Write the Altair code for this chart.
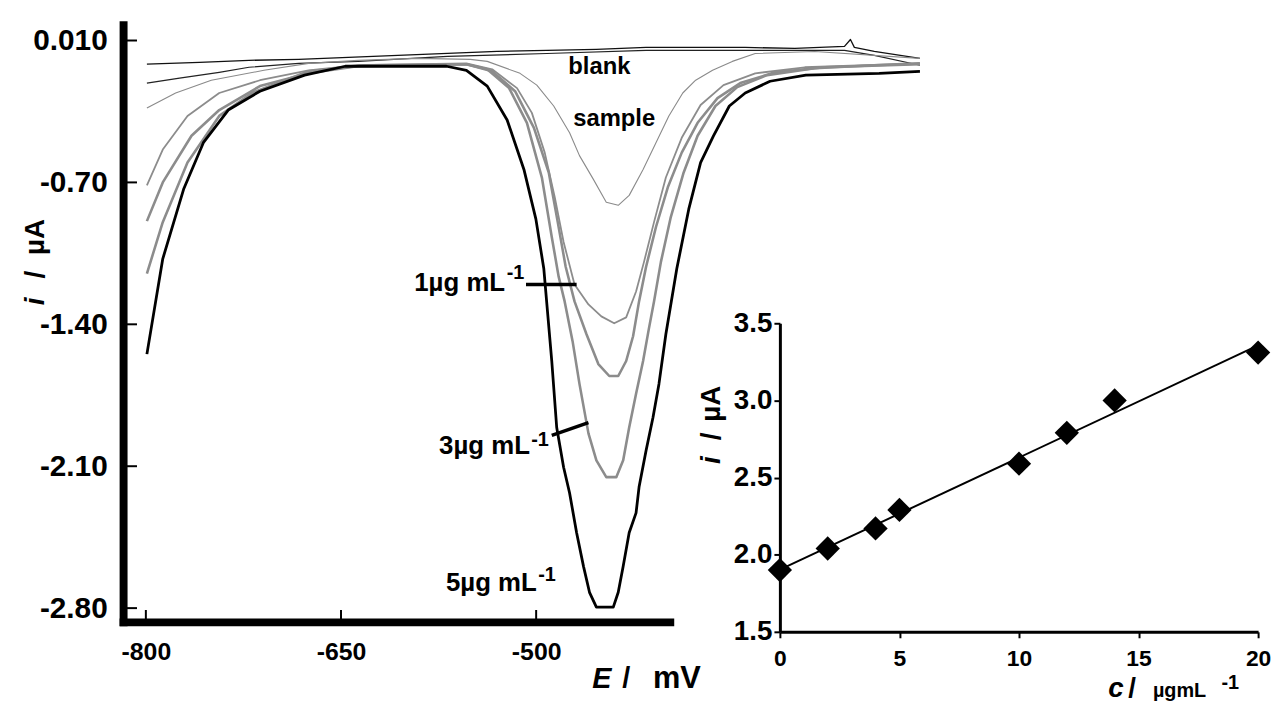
import altair as alt
import pandas as pd

FONT = "Liberation Sans"

# ---------------- main voltammograms: E / mV , i / uA ----------------
E_blank = [-799.2, -758.8, -720.7, -682.5, -644.4, -606.3, -568.1, -530.0, -491.8, -453.7,
           -415.5, -377.4, -339.3, -301.1, -263.0, -258.4, -255.4, -240.1, -205.0]
i_blank = [-0.117, -0.108, -0.098, -0.093, -0.083, -0.073, -0.064, -0.054, -0.049, -0.044,
           -0.034, -0.034, -0.034, -0.039, -0.029, 0.005, -0.034, -0.054, -0.088]

E_blank2 = [-799.2, -774.1, -743.6, -720.7, -682.5, -636.8, -568.1, -491.8, -415.5, -339.3,
            -263.0, -240.1, -205.0]
i_blank2 = [-0.210, -0.186, -0.157, -0.132, -0.113, -0.103, -0.078, -0.064, -0.049, -0.049,
            -0.049, -0.073, -0.122]

E_sample = [-799.2, -777.1, -749.7, -709.2, -674.9, -636.8, -591.0, -550.6, -537.6, -512.4,
            -499.5, -486.5, -474.3, -466.7, -456.0, -446.1, -436.9, -428.5, -417.8, -407.9,
            -398.0, -387.3, -377.4, -364.4, -349.2, -331.6, -285.9, -205.0]
i_sample = [-0.333, -0.259, -0.196, -0.147, -0.113, -0.098, -0.088, -0.093, -0.103, -0.162,
            -0.220, -0.323, -0.455, -0.568, -0.685, -0.798, -0.813, -0.764, -0.636, -0.504,
            -0.372, -0.259, -0.196, -0.147, -0.103, -0.064, -0.054, -0.088]

E_c1 = [-799.2, -787.0, -768.0, -743.6, -712.3, -674.9, -636.8, -553.6, -533.8, -514.7,
        -503.3, -493.4, -485.7, -478.9, -470.5, -459.8, -449.9, -440.0, -430.8, -423.2,
        -417.1, -409.4, -400.3, -388.1, -373.6, -356.0, -331.6, -293.5, -205.0]
i_c1 = [-0.715, -0.538, -0.372, -0.259, -0.196, -0.147, -0.122, -0.113, -0.142, -0.235,
        -0.357, -0.553, -0.773, -0.994, -1.204, -1.302, -1.361, -1.395, -1.366, -1.238,
        -1.092, -0.896, -0.676, -0.480, -0.318, -0.220, -0.162, -0.132, -0.113]

E_c2 = [-799.2, -787.0, -764.9, -743.6, -712.3, -674.9, -637.5, -553.6, -533.8, -516.2,
        -501.7, -490.3, -483.4, -477.3, -470.5, -461.3, -452.2, -443.8, -436.9, -430.8,
        -425.5, -420.9, -415.5, -407.9, -398.8, -388.1, -375.9, -360.6, -343.1, -316.4,
        -278.2, -205.0]
i_c2 = [-0.891, -0.700, -0.470, -0.343, -0.225, -0.162, -0.127, -0.117, -0.152, -0.250,
        -0.431, -0.651, -0.896, -1.116, -1.287, -1.449, -1.596, -1.655, -1.655, -1.581,
        -1.459, -1.287, -1.116, -0.920, -0.724, -0.553, -0.406, -0.284, -0.210, -0.157,
        -0.132, -0.117]

E_c3 = [-799.2, -787.0, -768.0, -743.6, -718.4, -674.9, -631.4, -553.6, -537.6, -520.8,
        -507.1, -495.6, -488.0, -482.7, -478.1, -472.0, -466.7, -459.8, -453.7, -446.1,
        -438.4, -433.1, -428.5, -423.2, -417.8, -413.3, -409.4, -404.1, -396.5, -386.6,
        -375.9, -362.2, -345.4, -322.5, -285.9, -240.1, -205.0]
i_c3 = [-1.150, -0.896, -0.602, -0.372, -0.259, -0.152, -0.122, -0.117, -0.142, -0.235,
        -0.406, -0.676, -0.969, -1.165, -1.287, -1.483, -1.694, -1.938, -2.071, -2.154,
        -2.154, -2.071, -1.909, -1.743, -1.581, -1.420, -1.287, -1.092, -0.871, -0.651,
        -0.470, -0.323, -0.230, -0.171, -0.137, -0.122, -0.113]

E_c5 = [-799.2, -787.0, -771.0, -755.8, -736.7, -712.3, -678.0, -646.7, -568.9, -553.6,
        -537.6, -522.3, -509.4, -500.2, -494.1, -488.0, -484.2, -478.9, -474.3, -468.9,
        -463.6, -459.0, -453.7, -440.7, -436.9, -433.1, -428.5, -423.2, -420.9, -415.5,
        -410.2, -405.6, -400.3, -391.9, -382.7, -373.6, -363.7, -351.5, -339.3, -320.2,
        -292.7, -236.3, -205.0]
i_c5 = [-1.547, -1.077, -0.734, -0.504, -0.343, -0.250, -0.171, -0.127, -0.127, -0.147,
        -0.225, -0.392, -0.636, -0.881, -1.126, -1.581, -1.909, -2.105, -2.232, -2.428,
        -2.594, -2.722, -2.795, -2.795, -2.722, -2.594, -2.428, -2.330, -2.203, -2.022,
        -1.860, -1.694, -1.449, -1.126, -0.832, -0.602, -0.470, -0.323, -0.259, -0.201,
        -0.171, -0.162, -0.152]

E_ticks = [-800, -650, -500]
i_ticks = [0, -0.7, -1.4, -2.1, -2.8]

# annotations (data coordinates)
word_labels = ["blank", "sample"]
word_E = [-451.4, -440.0]
word_i = [-0.132, -0.387]

conc_labels = ["1µg mL", "3µg mL", "5µg mL"]
conc_E = [-523.9, -504.8, -499.5]
conc_i = [-1.234, -2.041, -2.717]
sup_E = [-522.6, -503.8, -498.4]
sup_i = [-1.175, -2.002, -2.668]

ptr_E = [-507.8, -488.0]
ptr_E2 = [-468.9, -459.8]
ptr_i = [-1.204, -1.948]
ptr_i2 = [-1.204, -1.885]

# ---------------- inset: calibration ----------------
c_vals = [0, 2, 4, 5, 10, 12, 14, 20]
ip_vals = [1.90, 2.04, 2.17, 2.29, 2.59, 2.79, 3.00, 3.31]
c_ticks = [0, 5, 10, 15, 20]
ip_ticks = [1.5, 2.0, 2.5, 3.0, 3.5]

one = pd.DataFrame({"k": [0]})

xs = alt.Scale(domain=[-817.5, -397.3], nice=False, zero=False)
ys = alt.Scale(domain=[-2.868, 0.0783], nice=False, zero=False)

x_axis = alt.Axis(values=E_ticks, labelExpr="'-' + format(-datum.value, 'd')",
                  domainWidth=8, domainColor="black", domainCap="square", ticks=False, grid=False,
                  labelFont=FONT, labelFontSize=25, labelFontWeight="bold", labelColor="black",
                  labelPadding=18, labelFlush=False, labelOverlap=False)
y_axis = alt.Axis(values=i_ticks,
                  labelExpr="datum.value == 0 ? '0.010' : '-' + format(-datum.value, '.2f')",
                  domainWidth=8, domainColor="black", domainCap="square", ticks=False, grid=False,
                  labelFont=FONT, labelFontSize=30, labelFontWeight="bold", labelColor="black",
                  labelPadding=16, labelFlush=False, labelOverlap=False)

X = lambda: alt.X("E:Q", scale=xs, axis=x_axis, title=None)
Y = lambda: alt.Y("i:Q", scale=ys, axis=y_axis, title=None)


def curve(E, i, color, width):
    df = pd.DataFrame({"E": E, "i": i})
    return alt.Chart(df).mark_line(color=color, strokeWidth=width, strokeJoin="round").encode(x=X(), y=Y())


def ptext(txt, x, y, size, angle=0, italic=False, align="left", baseline="alphabetic"):
    kw = dict(text=txt, font=FONT, fontSize=size, fontWeight="bold", color="black",
              align=align, baseline=baseline)
    if angle:
        kw["angle"] = angle
    if italic:
        kw["fontStyle"] = "italic"
    return alt.Chart(one).mark_text(**kw).encode(x=alt.value(x), y=alt.value(y))


layers = [
    curve(E_blank, i_blank, "#111111", 1.3),
    curve(E_blank2, i_blank2, "#222222", 1.2),
    curve(E_sample, i_sample, "#8a8a8a", 1.1),
    curve(E_c1, i_c1, "#8c8c8c", 1.8),
    curve(E_c2, i_c2, "#8c8c8c", 2.6),
    curve(E_c3, i_c3, "#8c8c8c", 2.6),
    curve(E_c5, i_c5, "#000000", 2.8),
]

# inward ticks
layers.append(alt.Chart(pd.DataFrame({"i": i_ticks})).mark_rule(color="black", strokeWidth=2).encode(
    y=Y(), x=alt.value(0), x2=alt.value(14)))
layers.append(alt.Chart(pd.DataFrame({"E": E_ticks})).mark_rule(color="black", strokeWidth=2).encode(
    x=X(), y=alt.value(602), y2=alt.value(590)))

# pointers
layers.append(alt.Chart(pd.DataFrame({"E": ptr_E, "E2": ptr_E2, "i": ptr_i, "i2": ptr_i2}))
              .mark_rule(color="black", strokeWidth=3.5).encode(
    x=X(), x2="E2:Q", y=Y(), y2="i2:Q"))

# annotation texts
layers.append(alt.Chart(pd.DataFrame({"E": word_E, "i": word_i, "t": word_labels})).mark_text(
    font=FONT, fontSize=24, fontWeight="bold", color="black", align="center", baseline="middle").encode(
    x=X(), y=Y(), text="t:N"))
layers.append(alt.Chart(pd.DataFrame({"E": conc_E, "i": conc_i, "t": conc_labels})).mark_text(
    font=FONT, fontSize=26, fontWeight="bold", color="black", align="right", baseline="alphabetic").encode(
    x=X(), y=Y(), text="t:N"))
layers.append(alt.Chart(pd.DataFrame({"E": sup_E, "i": sup_i, "t": ["-1", "-1", "-1"]})).mark_text(
    font=FONT, fontSize=20, fontWeight="bold", color="black", align="left", baseline="alphabetic").encode(
    x=X(), y=Y(), text="t:N"))

# axis titles
layers += [
    ptext("i", -88, 279, 28, angle=270, italic=True, align="center", baseline="middle"),
    ptext("/", -88, 252, 28, angle=270, align="center", baseline="middle"),
    ptext("µA", -88, 214, 28, angle=270, align="center", baseline="middle"),
    ptext("E", 473, 669, 29, italic=True),
    ptext("/", 503, 669, 29),
    ptext("mV", 534, 669, 31),
]

main = alt.layer(*layers).properties(width=551, height=602)

# ---------------- inset ----------------
cal = pd.DataFrame({"c": c_vals, "i": ip_vals})
cs = alt.Scale(domain=[0, 20], nice=False, zero=False)
ips = alt.Scale(domain=[1.5, 3.5], nice=False, zero=False)
cx_axis = alt.Axis(values=c_ticks, format="d", domainWidth=3, domainColor="black",
                   tickColor="black", tickSize=6, tickWidth=2, grid=False,
                   labelFont=FONT, labelFontSize=23, labelFontWeight="bold", labelColor="black",
                   labelPadding=10, labelFlush=False, labelOverlap=False)
cy_axis = alt.Axis(values=ip_ticks, format=".1f", domainWidth=3, domainColor="black",
                   tickColor="black", tickSize=6, tickWidth=2, grid=False,
                   labelFont=FONT, labelFontSize=28, labelFontWeight="bold", labelColor="black",
                   labelPadding=2, labelFlush=False, labelOverlap=False)
CX = lambda: alt.X("c:Q", scale=cs, axis=cx_axis, title=None)
CY = lambda: alt.Y("i:Q", scale=ips, axis=cy_axis, title=None)

fit = alt.Chart(cal).transform_regression("c", "i", extent=[0, 20]).mark_line(
    color="black", strokeWidth=2).encode(x=CX(), y=CY())
pts = alt.Chart(cal).mark_point(shape="diamond", filled=True, color="black", size=600, opacity=1).encode(
    x=CX(), y=CY())

inset = alt.layer(
    fit, pts,
    ptext("i", -68, 138, 28, angle=270, italic=True, align="center", baseline="middle"),
    ptext("/", -68, 114, 28, angle=270, align="center", baseline="middle"),
    ptext("µA", -68, 81, 28, angle=270, align="center", baseline="middle"),
    ptext("c", 331, 377, 28, italic=True),
    ptext("/", 351, 377, 28),
    ptext("µgmL", 376, 377, 20),
    ptext("-1", 445, 369, 20),
).properties(width=482, height=311)

spacer = alt.Chart(one).mark_point(opacity=0).encode(
    x=alt.X("k:Q", axis=None), y=alt.Y("k:Q", axis=None)).properties(width=482, height=296)

right = alt.vconcat(spacer, inset, spacing=5, bounds="flush")

chart = alt.hconcat(main, right, spacing=111, bounds="flush").properties(
    padding={"left": 14, "top": 14, "right": 0, "bottom": 0},
    background="white",
).configure_view(stroke=None)

chart.save("out.html", embed_options={"renderer": "svg", "actions": False})
